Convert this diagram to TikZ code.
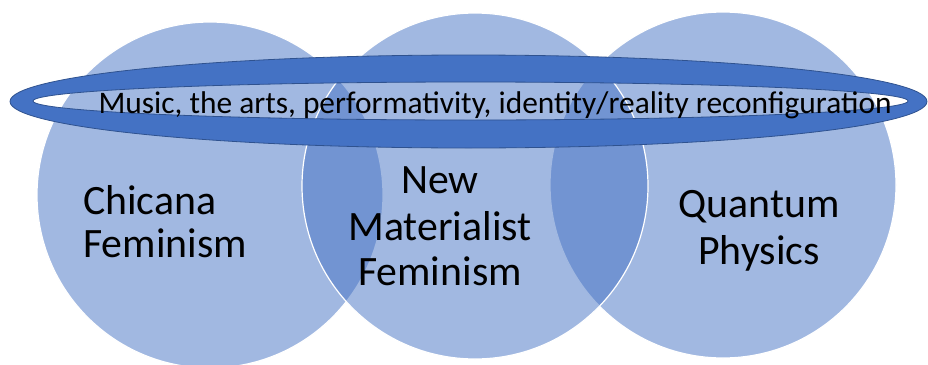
\documentclass[tikz,border=0pt]{standalone}
\usepackage{fontspec}
\setmainfont{Carlito}
\definecolor{accent}{HTML}{4472C4}
\definecolor{accentdark}{HTML}{2F528F}
\begin{document}
\begin{tikzpicture}[x=1pt,y=-1pt,
  vennset/.style={fill=accent,fill opacity=0.5,draw=white,draw opacity=1,line width=1.2pt},
  bigtext/.style={font=\fontsize{41.8}{48}\selectfont,inner sep=0pt,text=black},
  ringtext/.style={font=\fontsize{31.4}{36}\selectfont,inner sep=0pt,text=black}]
\useasboundingbox (0,0) rectangle (928,364);
\clip (0,0) rectangle (928,364);
\fill[white] (0,0) rectangle (928,364);
% circles
\path[vennset] (210,195) circle (173);
\path[vennset] (723,185) circle (173);
\path[vennset] (475,186) circle (173);
% ring
\path[fill=accent,draw=accentdark,line width=0.8pt,even odd rule]
  (468.5,101.5) ellipse (458.5 and 46.5)
  (470.5,101) ellipse (437.5 and 19);
% labels
\node[ringtext,anchor=base] (ring) at (495,113) {Music, the arts, performativity, identity/reality reconfiguration};
\node[bigtext,anchor=base west] (chi1) at (83,214) {Chicana};
\node[bigtext,anchor=base west] (chi2) at (83,257) {Feminism};
\node[bigtext,anchor=base] (nm1) at (440,193) {New};
\node[bigtext,anchor=base] (nm2) at (440,240) {Materialist};
\node[bigtext,anchor=base] (nm3) at (440,285) {Feminism};
\node[bigtext,anchor=base] (qp1) at (759,217) {Quantum};
\node[bigtext,anchor=base] (qp2) at (759,264) {Physics};
\end{tikzpicture}
\end{document}
